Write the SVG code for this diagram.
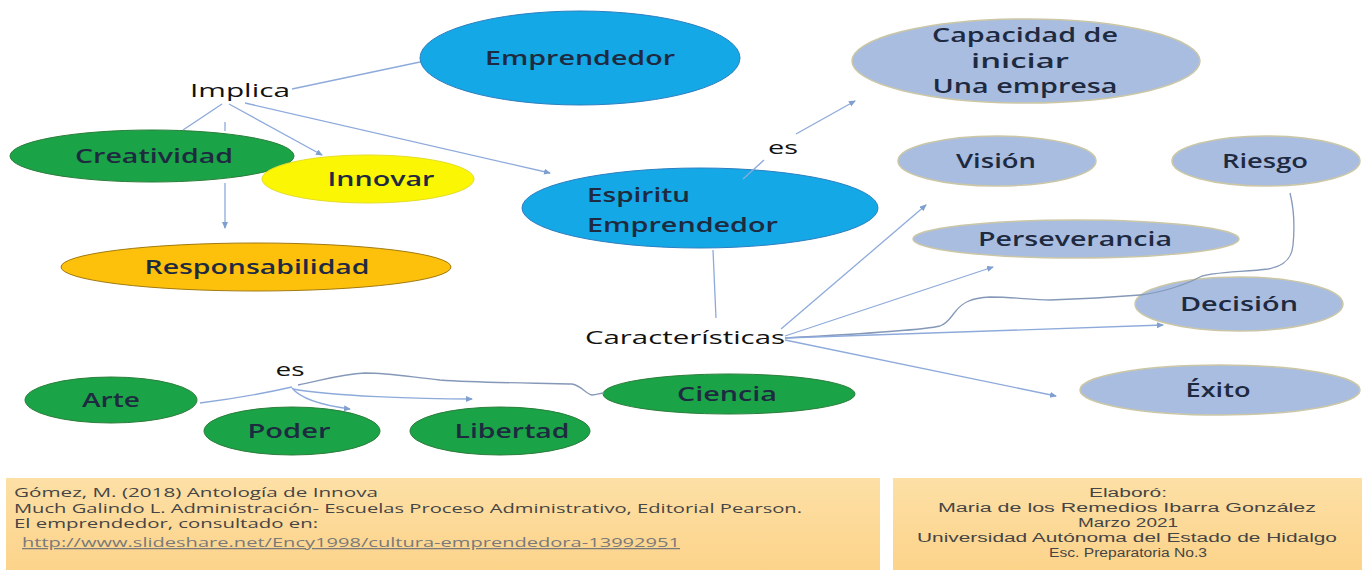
<svg xmlns="http://www.w3.org/2000/svg" width="1367" height="570" viewBox="0 0 1367 570">
<defs>
<marker id="ah" markerWidth="8" markerHeight="8" refX="6" refY="3" orient="auto" markerUnits="userSpaceOnUse"><path d="M0,0 L7,3 L0,6 Z" fill="#7f9fd0"/></marker>
<linearGradient id="box" x1="0" y1="0" x2="0" y2="1"><stop offset="0" stop-color="#fde0a6"/><stop offset="1" stop-color="#fcd38a"/></linearGradient>
<style>
text{font-family:"Open Sans","Liberation Sans",sans-serif;}
.lbl{font-size:19px;font-weight:600;fill:#1e2a40;text-anchor:middle;}
.plain{font-size:19px;font-weight:500;fill:#111;text-anchor:middle;}
.blue{fill:#15a8e6;stroke:#2b7fc0;stroke-width:1;}
.green{fill:#1ba447;stroke:#2a7d3a;stroke-width:1;}
.yellow{fill:#fbf704;stroke:#e5dc2a;stroke-width:1;}
.orange{fill:#fdc10c;stroke:#a27a10;stroke-width:1;}
.lb{fill:#a9bde0;stroke:#cbc7a6;stroke-width:1.5;}
.c{fill:none;stroke:#8eaadb;stroke-width:1.3;}
.w{fill:none;stroke:#8598b8;stroke-width:1.3;}
.ca{fill:none;stroke:#8eaadb;stroke-width:1.3;marker-end:url(#ah);}
.ft{font-size:12.5px;fill:#454545;}
.fr{font-family:"Liberation Sans",Arial,sans-serif;font-size:12.5px;fill:#454545;text-anchor:middle;}
</style>
</defs>
<rect width="1367" height="570" fill="#ffffff"/>

<g id="emprendedor"><ellipse class="blue" cx="580" cy="58" rx="160" ry="47"/><text class="lbl" x="580" y="65" textLength="190" lengthAdjust="spacingAndGlyphs">Emprendedor</text></g>
<g id="implica"><text class="plain" x="240" y="97" textLength="100" lengthAdjust="spacingAndGlyphs">Implica</text></g>
<g id="creatividad"><ellipse class="green" cx="152" cy="156" rx="142" ry="26"/><text class="lbl" x="154" y="163" textLength="158" lengthAdjust="spacingAndGlyphs">Creatividad</text></g>
<g id="innovar"><ellipse class="yellow" cx="368" cy="179" rx="106" ry="24"/><text class="lbl" x="381" y="186" textLength="107" lengthAdjust="spacingAndGlyphs">Innovar</text></g>
<g id="responsabilidad"><ellipse class="orange" cx="256" cy="267" rx="195" ry="24"/><text class="lbl" x="257" y="274" textLength="225" lengthAdjust="spacingAndGlyphs">Responsabilidad</text></g>
<g id="espiritu"><ellipse class="blue" cx="700" cy="208" rx="178" ry="40"/><text class="lbl" x="587" y="202" style="text-anchor:start" textLength="103" lengthAdjust="spacingAndGlyphs">Espiritu</text><text class="lbl" x="587" y="232" style="text-anchor:start" textLength="191" lengthAdjust="spacingAndGlyphs">Emprendedor</text></g>
<g id="capacidad"><ellipse class="lb" cx="1026" cy="61" rx="174" ry="42"/><text class="lbl" x="1025" y="42" textLength="186" lengthAdjust="spacingAndGlyphs">Capacidad de</text><text class="lbl" x="1020" y="68" textLength="98" lengthAdjust="spacingAndGlyphs">iniciar</text><text class="lbl" x="1025" y="93" textLength="185" lengthAdjust="spacingAndGlyphs">Una empresa</text></g>
<g id="vision"><ellipse class="lb" cx="997" cy="161" rx="99" ry="25"/><text class="lbl" x="996" y="168" textLength="80" lengthAdjust="spacingAndGlyphs">Visión</text></g>
<g id="riesgo"><ellipse class="lb" cx="1266" cy="161" rx="94" ry="25"/><text class="lbl" x="1265" y="168" textLength="86" lengthAdjust="spacingAndGlyphs">Riesgo</text></g>
<g id="perseverancia"><ellipse class="lb" cx="1076" cy="239" rx="163" ry="19"/><text class="lbl" x="1075" y="246" textLength="194" lengthAdjust="spacingAndGlyphs">Perseverancia</text></g>
<g id="decision"><ellipse class="lb" cx="1239" cy="304" rx="104" ry="27"/><text class="lbl" x="1239" y="311" textLength="118" lengthAdjust="spacingAndGlyphs">Decisión</text></g>
<g id="exito"><ellipse class="lb" cx="1220" cy="390" rx="140" ry="25"/><text class="lbl" x="1218" y="397" textLength="65" lengthAdjust="spacingAndGlyphs">Éxito</text></g>
<g id="caracteristicas"><text class="plain" x="685" y="344" textLength="200" lengthAdjust="spacingAndGlyphs">Características</text></g>
<g id="es-top"><text class="plain" x="783" y="154" textLength="30" lengthAdjust="spacingAndGlyphs">es</text></g>
<g id="es-bottom"><text class="plain" x="290" y="376" textLength="29" lengthAdjust="spacingAndGlyphs">es</text></g>
<g id="arte"><ellipse class="green" cx="111" cy="400" rx="86" ry="23"/><text class="lbl" x="111" y="407" textLength="58" lengthAdjust="spacingAndGlyphs">Arte</text></g>
<g id="poder"><ellipse class="green" cx="292" cy="431" rx="88" ry="24"/><text class="lbl" x="289" y="438" textLength="83" lengthAdjust="spacingAndGlyphs">Poder</text></g>
<g id="libertad"><ellipse class="green" cx="500" cy="431" rx="90" ry="24"/><text class="lbl" x="512" y="438" textLength="115" lengthAdjust="spacingAndGlyphs">Libertad</text></g>
<g id="ciencia"><ellipse class="green" cx="729" cy="394" rx="126" ry="20"/><text class="lbl" x="727" y="401" textLength="100" lengthAdjust="spacingAndGlyphs">Ciencia</text></g>

<g id="connectors">
<path class="c" d="M292,89 L420,62"/>
<path class="c" d="M222,104 L183,130"/>
<path class="ca" d="M229,104 L322,155"/>
<path class="c" d="M225,122 L225,131"/>
<path class="ca" d="M225,183 L225,228"/>
<path class="ca" d="M245,103 L550,173"/>
<path class="c" d="M743,179 L764,160"/>
<path class="ca" d="M796,134 L855,101"/>
<path class="c" d="M713,250 L716,318"/>
<path class="ca" d="M781,329 L926,205"/>
<path class="ca" d="M785,336 L993,267"/>
<path class="w" d="M785,338 C860,334 925,330 940,326 C948,323 950,318 955,312 C962,303 970,298 990,297 C1015,297 1030,300 1050,300 C1080,299 1115,297 1140,295 C1160,293 1185,285 1200,277 C1210,272 1245,272 1268,269 C1285,266 1292,258 1293,245 C1295,225 1293,205 1290,193"/>
<path class="ca" d="M785,338 L1163,325"/>
<path class="ca" d="M785,340 L1056,396"/>
<path class="c" d="M200,403 C240,398 270,392 292,387"/>
<path class="w" d="M298,385 C320,381 340,374 365,373 C390,373 410,377 440,380 C480,383 540,383 572,384 C582,386 586,394 592,395 C597,395 600,393 604,393"/>
<path class="ca" d="M292,388 C300,398 320,405 350,409"/>
<path class="ca" d="M293,389 C330,396 420,399 472,399"/>
</g>

<g id="footer-left">
<rect x="6" y="478" width="874" height="92" fill="url(#box)"/>
<text class="ft" x="14" y="497" textLength="364" lengthAdjust="spacingAndGlyphs">Gómez, M. (2018) Antología de Innova</text>
<text class="ft" x="14" y="513" textLength="788" lengthAdjust="spacingAndGlyphs">Much Galindo L.  Administración- Escuelas Proceso Administrativo, Editorial Pearson.</text>
<text class="ft" x="14" y="528" textLength="304" lengthAdjust="spacingAndGlyphs">El emprendedor,  consultado en:</text>
<text class="ft" x="22" y="547" textLength="658" lengthAdjust="spacingAndGlyphs" style="fill:#7a7a7a;text-decoration:underline">http://www.slideshare.net/Ency1998/cultura-emprendedora-13992951</text>
</g>
<g id="footer-right">
<rect x="893" y="478" width="469" height="92" fill="url(#box)"/>
<text class="fr" x="1128" y="497" textLength="78" lengthAdjust="spacingAndGlyphs">Elaboró:</text>
<text class="fr" x="1127" y="512" textLength="378" lengthAdjust="spacingAndGlyphs">Maria de los Remedios Ibarra González</text>
<text class="fr" x="1128" y="527" textLength="100" lengthAdjust="spacingAndGlyphs">Marzo 2021</text>
<text class="fr" x="1127" y="542" textLength="420" lengthAdjust="spacingAndGlyphs">Universidad Autónoma del Estado de Hidalgo</text>
<text class="fr" x="1128" y="557" textLength="158" lengthAdjust="spacingAndGlyphs">Esc. Preparatoria No.3</text>
</g>
</svg>
